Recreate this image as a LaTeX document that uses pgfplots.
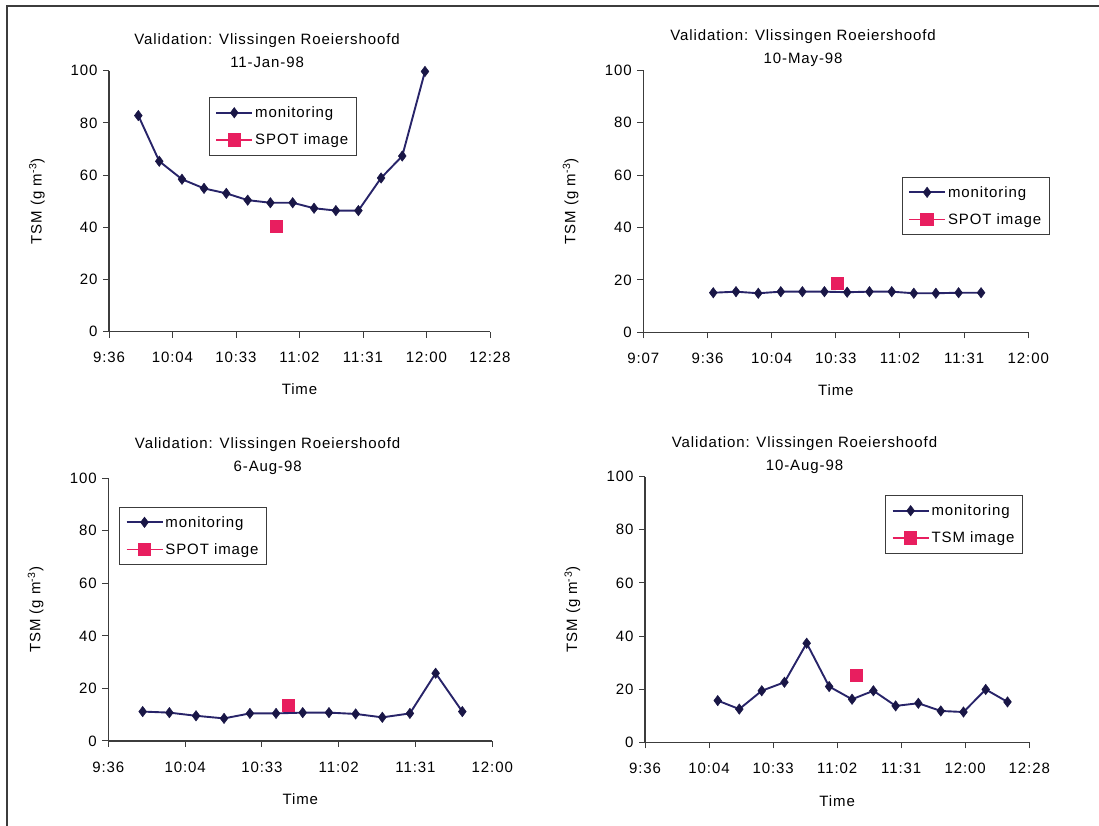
\documentclass[border=0pt]{standalone}
\usepackage{fontspec}
\setmainfont{Liberation Sans}[LetterSpace=6]
\usepackage{pgfplots}
\pgfplotsset{compat=1.18}
\definecolor{navy}{RGB}{40,36,105}
\definecolor{navydark}{RGB}{25,22,70}
\definecolor{spot}{RGB}{232,30,95}
\definecolor{axgray}{RGB}{60,60,60}
\newcommand{\chfont}{\fontsize{15}{17}\selectfont}
\pgfplotsset{
  tsm/.style={
    scale only axis,
    axis x line=bottom, axis y line=left,
    axis line style={-, axgray, line width=1.2pt},
    tick align=outside, major tick length=6pt,
    tick style={axgray, line width=1pt},
    ymin=0, ymax=100, ytick={0,20,...,100},
    /pgf/number format/assume math mode=true,
    ticklabel style={font=\chfont},
    xticklabel style={yshift=-11pt},
    yticklabel style={xshift=-2pt},
    ylabel={TSM (g m\textsuperscript{-3})},
    ylabel style={at={(axis description cs:-0.189,0.5)}, anchor=center, font=\chfont},
    xlabel={Time},
    xlabel style={at={(axis description cs:0.5,-0.222)}, anchor=center, font=\chfont},
    title style={at={(axis description cs:0.415,1)}, anchor=south, align=center,
      font=\fontsize{15}{23}\selectfont, inner sep=0pt, yshift=-3pt},
    legend cell align=left,
    legend style={draw=axgray, line width=1pt, fill=white, font=\chfont,
      row sep=11pt, inner xsep=6pt, inner ysep=7pt, anchor=north west,
      /tikz/every even column/.append style={column sep=3pt}},
  },
  mon/.style={navy, line width=1.9pt, mark=diamond*, mark size=5.2pt,
    mark options={fill=navydark, draw=navydark, line width=0.5pt}},
  img/.style={spot, line width=1pt, mark=square*, mark size=6pt,
    mark options={fill=spot, draw=spot}},
  monleg/.style={legend image code/.code={\draw[mark repeat=2,mark phase=2,##1,line width=1.9pt]
      plot coordinates {(0pt,0pt)(18pt,0pt)(36pt,0pt)};}},
  imgleg/.style={legend image code/.code={\draw[mark repeat=2,mark phase=2,##1,line width=1.3pt]
      plot coordinates {(0pt,0pt)(18pt,0pt)(36pt,0pt)};}},
}
\begin{document}
\begin{tikzpicture}
\path[use as bounding box] (0,0) rectangle (1099pt,826pt);
\draw[axgray, line width=2pt] (7pt,0pt) -- (7pt,820pt) -- (1099pt,820pt);

% Panel 1
\begin{axis}[tsm, at={(109pt,494.3pt)}, anchor=south west, width=381pt, height=261pt,
  xmin=576, xmax=748.8, xtick={576,604.8,633.6,662.4,691.2,720,748.8},
  xticklabels={9:36,10:04,10:33,11:02,11:31,12:00,12:28},
  title={Validation: Vlissingen Roeiershoofd\\11-Jan-98},
  legend style={at={(axis description cs:0.262,0.899)}}]
\addplot[mon, monleg] coordinates {(589.3,82.8)(598.8,65.3)(609.1,58.4)(619.1,54.9)(629.2,53.0)(638.9,50.4)(649.2,49.4)(659.3,49.4)(669,47.3)(678.9,46.4)(689.1,46.4)(699.4,58.9)(709,67.3)(719.3,99.7)};
\addlegendentry{monitoring}
\addplot[img, imgleg] coordinates {(652,40.2)};
\addlegendentry{SPOT image}
\end{axis}

% Panel 2
\begin{axis}[tsm, at={(643.3pt,493.7pt)}, anchor=south west, width=385pt, height=262pt,
  xmin=547.2, xmax=720, xtick={547.2,576,604.8,633.6,662.4,691.2,720},
  xticklabels={9:07,9:36,10:04,10:33,11:02,11:31,12:00},
  title={Validation: Vlissingen Roeiershoofd\\10-May-98},
  legend style={at={(axis description cs:0.671,0.594)}}]
\addplot[mon, monleg] coordinates {(578.6,15.1)(588.8,15.5)(598.8,14.9)(608.9,15.5)(618.6,15.5)(628.5,15.5)(638.7,15.3)(648.7,15.5)(658.7,15.5)(668.6,14.9)(678.5,14.9)(688.7,15.1)(698.8,15.1)};
\addlegendentry{monitoring}
\addplot[img, imgleg] coordinates {(634.3,18.6)};
\addlegendentry{SPOT image}
\end{axis}

% Panel 3
\begin{axis}[tsm, at={(108.3pt,85pt)}, anchor=south west, width=384pt, height=262.7pt,
  xmin=576, xmax=720, xtick={576,604.8,633.6,662.4,691.2,720},
  xticklabels={9:36,10:04,10:33,11:02,11:31,12:00},
  title={Validation: Vlissingen Roeiershoofd\\6-Aug-98},
  legend style={at={(axis description cs:0.028,0.892)}}]
\addplot[mon, monleg] coordinates {(588.9,11.2)(598.9,10.8)(608.9,9.6)(619.4,8.6)(629.1,10.5)(638.9,10.5)(648.9,10.8)(658.75,10.8)(668.75,10.3)(678.75,9.0)(689.1,10.5)(698.75,25.8)(708.75,11.2)};
\addlegendentry{monitoring}
\addplot[img, imgleg] coordinates {(643.6,13.6)};
\addlegendentry{SPOT image}
\end{axis}

% Panel 4
\begin{axis}[tsm, at={(645pt,83.7pt)}, anchor=south west, width=384.3pt, height=265.6pt,
  xmin=576, xmax=748.8, xtick={576,604.8,633.6,662.4,691.2,720,748.8},
  xticklabels={9:36,10:04,10:33,11:02,11:31,12:00,12:28},
  title={Validation: Vlissingen Roeiershoofd\\10-Aug-98},
  legend style={at={(axis description cs:0.625,0.931)}}]
\addplot[mon, monleg] coordinates {(608.7,15.7)(618.4,12.5)(628.5,19.4)(638.7,22.6)(648.7,37.3)(658.8,21.0)(669.1,16.2)(678.7,19.4)(688.7,13.7)(698.9,14.7)(709,11.8)(719.2,11.4)(729.2,19.9)(739,15.2)};
\addlegendentry{monitoring}
\addplot[img, imgleg] coordinates {(671,25.3)};
\addlegendentry{TSM image}
\end{axis}
\end{tikzpicture}
\end{document}
